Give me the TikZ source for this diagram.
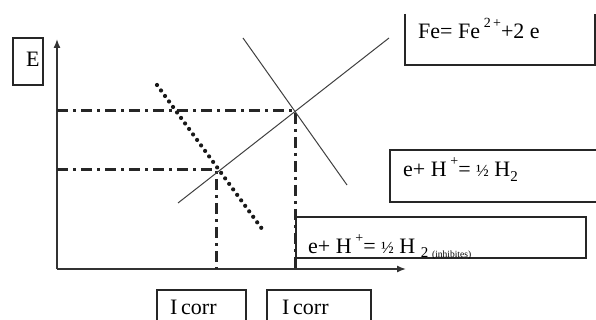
\documentclass[tikz,border=0pt]{standalone}
\usepackage{fontspec}
\setmainfont{Liberation Serif}
\usetikzlibrary{arrows.meta}
\newcommand{\supx}[1]{\raisebox{0.5em}{\fontsize{14}{16}\selectfont #1}}
\newcommand{\subx}[1]{\raisebox{-0.22em}{\fontsize{15}{17}\selectfont #1}}
\newcommand{\halfx}{{\fontsize{17}{19}\selectfont ½}}
\begin{document}
\begin{tikzpicture}[x=1pt,y=-1pt,
  axis/.style={draw=black!80, line width=1.4pt, -{Latex[length=9pt,width=7pt]}},
  boxline/.style={draw=black!85, line width=1.3pt},
  dashdot/.style={draw=black!85, line width=3pt, dash pattern=on 11pt off 5pt on 3pt off 5pt},
  dotline/.style={draw=black!90, line width=4.2pt, line cap=round, dash pattern=on 0pt off 6.8pt},
  thin/.style={draw=black!75, line width=1pt},
  lbl/.style={anchor=base west, inner sep=0pt, font=\fontsize{22}{25}\selectfont}
]
\useasboundingbox (0,0) rectangle (596,320);
\fill[white] (0,0) rectangle (596,320);

% axes
\coordinate (O) at (57,269);
\coordinate (ytop) at (57,39);
\coordinate (xend) at (406,269);
\draw[axis] (O) -- (ytop);
\draw[axis] (O) -- (xend);

% intersection points and projections
\coordinate (P1) at (216,170);
\coordinate (P2) at (295,111);
\coordinate (Y1) at (57,170);
\coordinate (Y2) at (57,111);
\coordinate (X1) at (216,269);
\coordinate (X2) at (295,269);
\draw[dashdot] (Y2) -- (P2) -- (X2);
\draw[dashdot] (Y1) -- (P1) -- (X1);

% polarisation lines
\coordinate (A1) at (178,203);
\coordinate (A2) at (389,38);
\coordinate (C1) at (243,38);
\coordinate (C2) at (347,185);
\coordinate (D1) at (157,85);
\coordinate (D2) at (265,233);
\draw[thin] (A1) -- (A2);
\draw[thin] (C1) -- (C2);
\draw[dotline] (D1) -- (D2);

% E box
\node[boxline, minimum width=30pt, minimum height=47pt, inner sep=0pt] (Ebox) at (28,61.5) {};
\node[lbl] (E) at (26,67) {E};

% Fe box (open top)
\coordinate (F1) at (405,14);
\coordinate (F2) at (405,65);
\coordinate (F3) at (595,65);
\coordinate (F4) at (595,14);
\draw[boxline] (F1) -- (F2) -- (F3) -- (F4);
\node[lbl] (Fe) at (418,39) {Fe= Fe\,\supx{2\,+}+2 e};

% H box
\coordinate (H1) at (597,150);
\coordinate (H2) at (390,150);
\coordinate (H3) at (390,202);
\coordinate (H4) at (597,202);
\draw[boxline] (H1) -- (H2) -- (H3) -- (H4);
\node[lbl] (Hr) at (403,177) {e+ H\,\supx{+}= \halfx\ H\subx{2}};

% inhibited box
\node[boxline, minimum width=290pt, minimum height=41pt, inner sep=0pt] (Ibox) at (441,237.5) {};
\node[lbl] (Hi) at (308,253) {e+ H\,\supx{+}= \halfx\ H\ \subx{2 \fontsize{9.5}{10}\selectfont(inhibites)}};

% I corr boxes
\coordinate (K1) at (157,321);
\coordinate (K2) at (157,290);
\coordinate (K3) at (246,290);
\coordinate (K4) at (246,321);
\draw[boxline] (K1) -- (K2) -- (K3) -- (K4);
\node[lbl] (I1) at (170,314) {I\,corr};
\coordinate (L1) at (267,321);
\coordinate (L2) at (267,290);
\coordinate (L3) at (371,290);
\coordinate (L4) at (371,321);
\draw[boxline] (L1) -- (L2) -- (L3) -- (L4);
\node[lbl] (I2) at (282,314) {I\,corr};
\end{tikzpicture}
\end{document}
